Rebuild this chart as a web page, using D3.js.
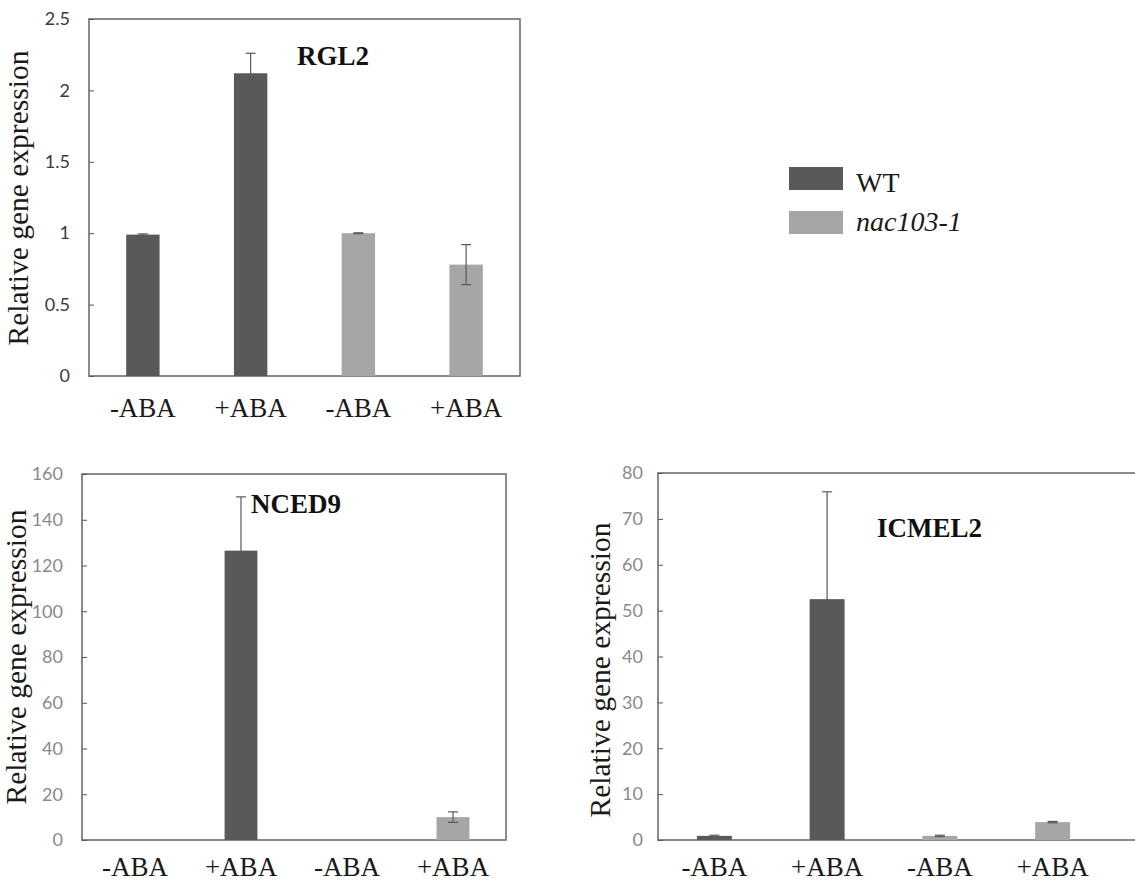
<!DOCTYPE html>
<html>
<head>
<meta charset="utf-8">
<script src="https://cdn.jsdelivr.net/npm/d3@7"></script>
<style>
  body { margin: 0; background: #fff; }
  svg { display: block; }
</style>
</head>
<body>
<svg id="chart"></svg>
<script>
'use strict';

// categories
var conditions = ["-ABA", "+ABA", "-ABA", "+ABA"];
var genotypes = ["WT", "WT", "nac103-1", "nac103-1"];

// series values
var rgl2Values = [0.99, 2.12, 1.0, 0.78];
var rgl2Errors = [0.005, 0.14, 0.003, 0.14];
var rgl2Ticks = [0, 0.5, 1, 1.5, 2, 2.5];

var nced9Values = [0, 126.5, 0, 10];
var nced9Errors = [0, 23.5, 0, 2.3];
var nced9Ticks = [0, 20, 40, 60, 80, 100, 120, 140, 160];

var icmel2Values = [0.9, 52.5, 0.9, 3.9];
var icmel2Errors = [0.15, 23.4, 0.15, 0.15];
var icmel2Ticks = [0, 10, 20, 30, 40, 50, 60, 70, 80];

var legendLabels = ["WT", "nac103-1"];

var width = 1135,
    height = 885;

var color = d3.scaleOrdinal()
    .domain(legendLabels)
    .range(["#595959", "#a6a6a6"]);

var svg = d3.select("#chart")
    .attr("width", width)
    .attr("height", height);

var serif = "'Liberation Serif', 'Times New Roman', serif";

function drawPanel(p) {
  var x = d3.scaleBand()
      .domain(d3.range(conditions.length))
      .range([p.left, p.barRight]);

  var y = d3.scaleLinear()
      .domain([0, p.ticks[p.ticks.length - 1]])
      .range([p.bottom, p.top]);

  var barW = x.bandwidth() * 0.31;

  var g = svg.append("g").attr("class", "panel");

  // frame
  g.append("rect")
      .attr("x", p.left)
      .attr("y", p.top)
      .attr("width", p.frameRight - p.left)
      .attr("height", p.bottom - p.top)
      .attr("fill", "none")
      .attr("stroke", "#6e6e6e")
      .attr("stroke-width", 1.6);

  // y axis, ticks pointing in
  var yAxis = g.append("g")
      .attr("transform", "translate(" + p.left + ",0)")
      .call(d3.axisLeft(y).tickValues(p.ticks).tickSize(-5).tickPadding(p.tickPad)
        .tickFormat(function(d) { return String(d); }));
  yAxis.select(".domain").remove();
  yAxis.selectAll(".tick line").attr("stroke", "#555");
  yAxis.selectAll(".tick text")
      .attr("fill", p.tickColor)
      .style("font-family", "Lato, 'Open Sans', sans-serif")
      .style("font-size", "18px");

  // x labels
  var xAxis = g.append("g")
      .attr("transform", "translate(0," + p.bottom + ")")
      .call(d3.axisBottom(x).tickSize(0).tickPadding(0)
        .tickFormat(function(i) { return conditions[i]; }));
  xAxis.select(".domain").remove();
  xAxis.selectAll(".tick text")
      .attr("y", p.xLabelY - p.bottom)
      .attr("dy", 0)
      .attr("fill", "#1a1a1a")
      .style("font-family", serif)
      .style("font-size", "27px");

  // bars
  g.selectAll(".bar")
      .data(p.values)
    .enter().append("rect")
      .attr("class", "bar")
      .attr("x", function(d, i) { return x(i) + x.bandwidth() / 2 - barW / 2; })
      .attr("y", function(d) { return y(d); })
      .attr("width", barW)
      .attr("height", function(d) { return p.bottom - y(d); })
      .attr("fill", function(d, i) { return color(genotypes[i]); });

  // error bars (same grey as the WT bars, so the lower half hides inside them)
  var err = g.selectAll(".err")
      .data(p.values.map(function(v, i) { return { v: v, e: p.errors[i], i: i }; })
        .filter(function(d) { return d.v > 0; }))
    .enter().append("g")
      .attr("class", "err")
      .attr("stroke", "#595959")
      .attr("stroke-width", 1.2);

  function cx(d) { return x(d.i) + x.bandwidth() / 2; }

  err.append("line")
      .attr("x1", cx).attr("x2", cx)
      .attr("y1", function(d) { return y(d.v + d.e); })
      .attr("y2", function(d) { return y(Math.max(0, d.v - d.e)); });
  err.append("line")
      .attr("x1", function(d) { return cx(d) - 5; })
      .attr("x2", function(d) { return cx(d) + 5; })
      .attr("y1", function(d) { return y(d.v + d.e); })
      .attr("y2", function(d) { return y(d.v + d.e); });
  err.append("line")
      .attr("x1", function(d) { return cx(d) - 5; })
      .attr("x2", function(d) { return cx(d) + 5; })
      .attr("y1", function(d) { return y(Math.max(0, d.v - d.e)); })
      .attr("y2", function(d) { return y(Math.max(0, d.v - d.e)); });

  // gene title
  g.append("text")
      .attr("x", p.titleX)
      .attr("y", p.titleY)
      .attr("fill", "#111")
      .style("font-family", serif)
      .style("font-weight", "bold")
      .style("font-size", "27px")
      .text(p.title);

  // y axis title
  g.append("text")
      .attr("transform", "translate(" + p.labelX + "," + p.labelY + ") rotate(-90)")
      .attr("text-anchor", "middle")
      .attr("fill", "#1a1a1a")
      .style("font-family", serif)
      .style("font-size", "29.5px")
      .text("Relative gene expression");
}

drawPanel({
  title: "RGL2", values: rgl2Values, errors: rgl2Errors, ticks: rgl2Ticks,
  left: 89, top: 19, barRight: 520, frameRight: 520, bottom: 376,
  tickColor: "#3a3a3a", tickPad: 19,
  titleX: 297, titleY: 65, labelX: 28, labelY: 198, xLabelY: 417
});

drawPanel({
  title: "NCED9", values: nced9Values, errors: nced9Errors, ticks: nced9Ticks,
  left: 82, top: 474, barRight: 506, frameRight: 506, bottom: 840,
  tickColor: "#8a8a8a", tickPad: 19,
  titleX: 251, titleY: 513, labelX: 26, labelY: 657, xLabelY: 876
});

drawPanel({
  title: "ICMEL2", values: icmel2Values, errors: icmel2Errors, ticks: icmel2Ticks,
  left: 658, top: 473, barRight: 1109, frameRight: 1150, bottom: 840,
  tickColor: "#8a8a8a", tickPad: 15,
  titleX: 877, titleY: 537, labelX: 610, labelY: 670, xLabelY: 876
});

// legend
var legend = svg.append("g")
    .attr("class", "legend")
    .selectAll("g")
    .data(legendLabels)
  .enter().append("g")
    .attr("transform", function(d, i) { return "translate(789," + (167 + i * 44) + ")"; });

legend.append("rect")
    .attr("width", 54)
    .attr("height", 23)
    .attr("fill", function(d) { return color(d); });

legend.append("text")
    .attr("x", 67)
    .attr("y", function(d, i) { return i === 0 ? 25 : 20; })
    .attr("fill", "#1a1a1a")
    .style("font-family", serif)
    .style("font-size", "28px")
    .style("font-style", function(d, i) { return i === 0 ? "normal" : "italic"; })
    .text(function(d) { return d; });
</script>
</body>
</html>
